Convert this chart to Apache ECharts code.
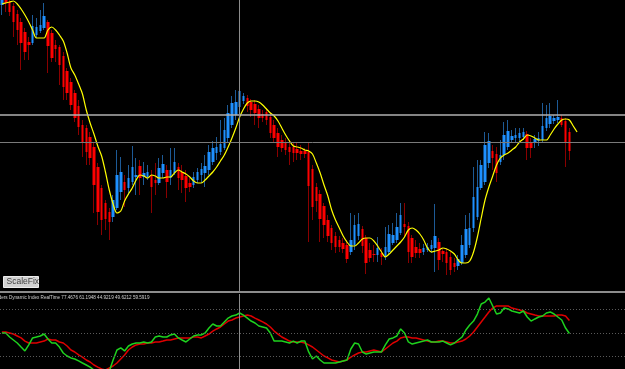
<!DOCTYPE html>
<html>
<head>
<meta charset="utf-8">
<script src="https://cdn.jsdelivr.net/npm/echarts@6/dist/echarts.min.js"></script>
<style>
  html, body { margin: 0; padding: 0; background: #000; }
  #chart { width: 625px; height: 369px; }
</style>
</head>
<body>
<div id="chart"></div>
<script>
// price bars (arbitrary price units)
const opens = [295,302,298,294,286,278,268,258,257,265, 269,272,278,267,255,253,244,229,218,207,
  194,175,172,163,153,133,112,97,88,83, 92,108,118,112,118,123,134,123,123,125,
  120,117,127,130,122,127,133,128,124,117, 115,120,125,127,130,138,147,148,152,162,
  175,185,193,199,202,198,196,191,186,188, 183,175,167,160,158,153,153,151,149,149,
  148,131,113,106,94,80,72,64,60,57, 55,48,55,64,71,62,50,46,45,47,
  43,48,57,60,67,76,74,62,53,51, 48,50,51,52,58,49,48,43,37,34,
  37,45,55,72,83,112,118,137,149,146, 138,145,153,160,162,162,163,166,157,157,
  159,160,172,176,179,180,182,179,168];
const closes = [300,297,288,278,270,257,248,255,274,273, 275,284,254,242,251,235,213,207,195,182,
  173,158,148,142,115,88,80,81,78,100, 125,128,110,122,133,125,122,127,128,113,
  117,132,136,118,130,138,122,120,112,113, 123,128,131,134,148,152,153,156,170,187,
  197,198,209,204,194,190,187,182,182,180, 167,162,153,152,150,148,147,147,146,146,
  114,93,99,81,75,64,57,53,53,51, 41,60,75,76,54,37,42,45,52,43,
  53,66,65,73,85,73,48,43,47,47, 52,53,55,64,40,46,37,30,33,41,
  55,71,72,103,113,135,155,159,142,127, 145,165,169,164,165,167,168,152,152,161,
  162,174,182,184,182,183,175,158,149];
const lows = [285,288,284,263,255,230,240,240,255,262, 267,270,227,238,238,215,200,200,190,178,
  165,143,135,135,87,75,65,70,60,78, 90,100,93,105,115,105,105,115,120,87,
  105,115,122,102,115,125,110,107,98,108, 112,117,117,113,125,135,140,145,150,158,
  172,180,188,196,188,183,175,172,178,175, 162,158,143,148,145,135,138,140,140,142,
  58,80,88,58,62,58,50,47,48,47, 37,45,50,60,47,26,38,38,38,35,
  40,45,55,57,65,63,37,37,42,42, 45,48,47,28,30,38,25,25,28,30,
  35,42,52,68,80,110,115,132,130,118, 135,140,150,157,158,159,160,140,142,152,
  154,157,169,172,176,177,173,133,140];
const highs = [303,305,300,297,290,282,272,263,285,282, 290,297,280,270,260,255,248,232,222,210,
  200,180,175,168,157,137,115,100,92,105, 150,143,125,135,154,142,140,138,135,130,
  137,142,145,135,152,152,137,135,130,122, 128,132,137,145,155,159,163,180,182,195,
  204,210,225,207,205,201,200,195,190,192, 187,180,172,165,162,160,157,157,155,152,
  158,135,117,110,97,85,75,68,64,62, 60,87,85,87,74,65,57,55,63,52,
  73,75,77,87,97,97,78,65,60,57, 56,57,60,96,62,52,52,48,42,45,
  65,85,87,133,140,140,168,167,155,153, 160,178,180,170,172,172,172,169,162,165,
  168,197,195,197,185,200,185,182,172];
// yellow moving average (runs two bars past the last candle)
const ma = [296,297,298,299,296,291,285,278,270,262, 262,262,270,273,270,265,259,247,232,225,
  216,206,190,177,166,154,144,128,110,96, 87,89,99,106,112,120,125,124,122,125,
  124,122,122,123,123,127,130,128,126,123, 119,117,117,120,124,128,133,139,145,153,
  162,172,183,191,197,199,199,198,195,191, 187,184,179,172,165,159,154,153,152,150,
  149,146,137,127,115,104,90,80,72,64, 58,54,54,57,61,62,62,59,54,48,
  43,46,50,54,58,63,70,72,70,66, 60,52,48,49,50,52,51,49,46,40,
  37,37,39,48,63,82,100,113,124,135, 142,145,147,150,153,158,161,165,164,162,
  160,160,160,165,171,176,180,181,180,174, 168];
// Traders Dynamic Index: RSI price line (green) and trade signal line (red)
const tdiPrice = [50.0,50.0,46.9,44.6,42.3,39.2,36.2,40.8,46.2,46.9, 47.7,49.2,45.4,42.3,42.3,39.2,34.6,32.3,30.8,30.0,
  28.5,26.9,25.4,23.8,21.5,20.0,19.2,19.2,20.8,29.2, 36.9,38.5,36.2,40.0,41.5,42.3,42.3,43.1,42.3,43.1,
  46.9,47.7,46.9,46.9,48.5,49.2,46.2,44.6,43.1,45.4, 47.7,48.5,48.5,50.0,53.8,56.9,55.4,55.4,58.5,61.5,
  63.1,63.8,65.4,63.8,61.5,59.2,57.7,55.4,54.6,53.8, 50.0,43.8,43.8,43.8,43.1,42.3,43.8,42.3,43.8,43.8,
  35.4,30.0,32.3,29.2,26.9,26.9,26.9,26.9,27.7,28.5, 29.2,37.7,42.3,41.5,35.4,33.8,34.6,35.4,35.4,35.4,
  40.8,45.4,46.2,47.7,53.1,50.0,43.1,41.5,42.3,43.1, 43.8,44.6,43.1,43.1,43.1,43.8,42.3,40.8,42.3,44.6,
  46.9,52.3,56.2,59.2,64.6,72.3,73.8,76.9,70.8,64.6, 65.4,69.2,68.5,66.9,66.2,65.4,66.9,62.3,59.2,60.8,
  62.3,63.1,65.4,66.2,64.6,62.3,60.0,53.8,49.6];
const tdiSignal = [50.8,50.8,50.0,49.2,47.7,46.2,43.8,42.3,42.3,42.3, 43.1,43.8,45.4,44.6,44.6,43.1,42.3,40.0,36.9,35.4,
  33.1,31.5,29.2,27.7,25.4,23.8,22.3,21.5,23.1,24.6, 26.9,30.0,33.1,36.9,39.2,40.8,41.5,41.5,42.3,42.3,
  43.1,43.1,43.8,44.6,44.6,45.4,46.2,46.2,46.2,46.2, 46.9,46.9,46.2,47.7,49.2,51.5,53.1,54.6,56.9,59.2,
  60.0,61.5,62.3,63.1,63.8,63.1,61.5,60.0,58.5,56.9, 54.6,51.5,49.2,46.9,45.4,43.8,43.1,43.1,43.1,42.3,
  40.8,39.2,36.9,34.6,32.3,30.8,29.2,28.5,27.7,28.5, 29.2,31.5,33.1,34.6,35.4,35.4,36.2,36.9,36.2,35.4,
  37.7,40.0,42.3,43.8,46.2,46.9,46.9,46.2,46.2,45.4, 44.6,43.8,43.1,43.1,43.8,43.8,43.1,42.3,42.3,43.1,
  43.8,45.4,47.7,50.8,54.6,58.5,62.3,66.2,69.2,70.8, 70.8,70.8,70.8,69.2,68.5,67.7,66.9,65.4,64.6,63.8,
  63.1,63.1,63.1,63.1,63.1,63.8,63.8,63.1,59.6];
const tdiLevels = [32, 50, 68];
const priceLines = [185.5, 157.7];
const crossBar = 62;
const tdiTitle = 'Traders Dynamic Index RealTime 77.4676 61.1948 44.9219 49.6212 59.5919';

// 149 bars plus the empty chart shift on the right
const slots = 163;
const cats = Array.from({ length: slots }, (_, i) => String(i));
const wicks = opens.map((o, i) => [o, closes[i], lows[i], highs[i]]);
const bodies = opens.map((o, i) => [o, closes[i], Math.min(o, closes[i]), Math.max(o, closes[i])]);

const chart = echarts.init(document.getElementById('chart'));
chart.setOption({
  backgroundColor: '#000',
  animation: false,
  grid: [
    { left: 0, right: 0, top: 0, height: 291 },
    { left: 0, right: 0, top: 294, height: 75 }
  ],
  xAxis: [
    { type: 'category', gridIndex: 0, data: cats, show: false },
    { type: 'category', gridIndex: 1, data: cats, show: false }
  ],
  yAxis: [
    { type: 'value', gridIndex: 0, min: 9, max: 300, show: false },
    { type: 'value', gridIndex: 1, min: 22.3, max: 80, show: false }
  ],
  graphic: [
    { type: 'rect', shape: { x: 0, y: 291, width: 625, height: 2 }, style: { fill: '#8c8c8c' }, silent: true },
    { type: 'text', left: -8, top: 295, style: { text: tdiTitle, fill: '#d0d0d0', font: '4.6px "Liberation Sans"' }, silent: true },
    { type: 'rect', shape: { x: 3.5, y: 276.5, width: 35, height: 11 },
      style: { fill: '#d2d2d2', stroke: '#ececec', lineWidth: 1 }, silent: true },
    { type: 'text', left: 6.5, top: 277, style: { text: 'ScaleFix', fill: '#444', font: '8.5px "Liberation Sans"' }, silent: true }
  ],
  series: [
    {
      type: 'candlestick',
      xAxisIndex: 0, yAxisIndex: 0,
      data: wicks,
      barWidth: 1,
      itemStyle: { color: '#1d5a96', color0: '#8a0000', borderColor: '#1d5a96', borderColor0: '#8a0000', borderWidth: 1 },
      silent: true
    },
    {
      type: 'candlestick',
      xAxisIndex: 0, yAxisIndex: 0,
      data: bodies,
      barWidth: 3,
      itemStyle: { color: '#1e90ff', color0: '#ff0000', borderColor: '#1e90ff', borderColor0: '#ff0000', borderWidth: 0 },
      silent: true,
      markLine: {
        silent: true, symbol: 'none', animation: false, label: { show: false },
        data: [
          { yAxis: priceLines[0], lineStyle: { color: '#b0b0b0', width: 1.5, type: 'solid' } },
          { yAxis: priceLines[1], lineStyle: { color: '#7a7a7a', width: 1, type: 'solid' } },
          { xAxis: cats[crossBar], lineStyle: { color: '#8c8c8c', width: 1, type: 'solid' } }
        ]
      }
    },
    {
      type: 'line',
      xAxisIndex: 0, yAxisIndex: 0,
      data: ma,
      showSymbol: false,
      smooth: 0.3,
      lineStyle: { color: '#ffff00', width: 1.2 },
      silent: true
    },
    {
      type: 'line',
      xAxisIndex: 1, yAxisIndex: 1,
      data: tdiSignal,
      showSymbol: false,
      lineStyle: { color: '#e00000', width: 1.5 },
      silent: true,
      markLine: {
        silent: true, symbol: 'none', animation: false, label: { show: false },
        data: tdiLevels.map(v => ({ yAxis: v, lineStyle: { color: '#5a5a5a', width: 1, type: [1, 2] } }))
          .concat([{ xAxis: cats[crossBar], lineStyle: { color: '#8c8c8c', width: 1, type: 'solid' } }])
      }
    },
    {
      type: 'line',
      xAxisIndex: 1, yAxisIndex: 1,
      data: tdiPrice,
      showSymbol: false,
      lineStyle: { color: '#1ed21e', width: 1.5 },
      silent: true
    }
  ]
});
</script>
</body>
</html>
